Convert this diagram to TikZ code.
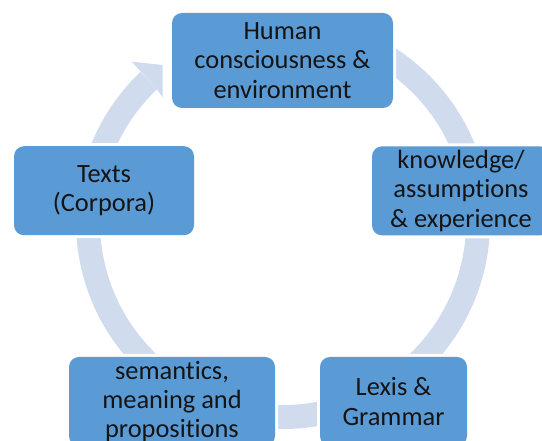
\documentclass[tikz,border=0pt]{standalone}
\usepackage{fontspec}
\setmainfont{Carlito}[Ligatures=NoCommon]
\definecolor{boxblue}{RGB}{91,155,213}
\definecolor{ringblue}{RGB}{208,220,238}
\definecolor{textdark}{RGB}{20,20,20}
\begin{document}
\begin{tikzpicture}[x=1pt,y=1pt,
  stage/.style={rectangle, rounded corners=10pt, fill=boxblue, inner sep=0pt,
    align=center, text=textdark, font=\fontsize{26.4}{29.3}\selectfont,
    preaction={draw=white, line width=6pt}},
  ring/.style={draw=ringblue, line width=24pt, line cap=butt}]
\useasboundingbox (0,0) rectangle (542,441);
\clip (0,0) rectangle (542,441);
% circular arrow running clockwise behind the stages
\coordinate (c) at (283,219);
\draw[ring] ([shift={(100:195)}]c) arc[start angle=100, end angle=-226.5, radius=195];
% arrow head, cut short before the top stage
\fill[ringblue] (131.7,379.3) -- (162.7,376) -- (162.7,343.6) -- (157.0,351.7) -- cycle;
% stages
\node[stage, minimum width=221pt, minimum height=95pt] (human) at (282.5,380.5)
  {Human\\consciousness \&\\environment};
\node[stage, minimum width=178pt, minimum height=89pt] (knowledge) at (461,250.1)
  {knowledge/\\assumptions\\\& experience};
\node[stage, minimum width=206pt, minimum height=89pt] (semantics) at (172,39.5)
  {semantics,\\meaning and\\propositions};
\node[stage, minimum width=147pt, minimum height=89pt] (lexis) at (393.5,39.5)
  {Lexis \&\\Grammar};
\node[stage, minimum width=180pt, minimum height=89pt] (texts) at (104,250.25)
  {Texts\\(Corpora)};
\end{tikzpicture}
\end{document}
